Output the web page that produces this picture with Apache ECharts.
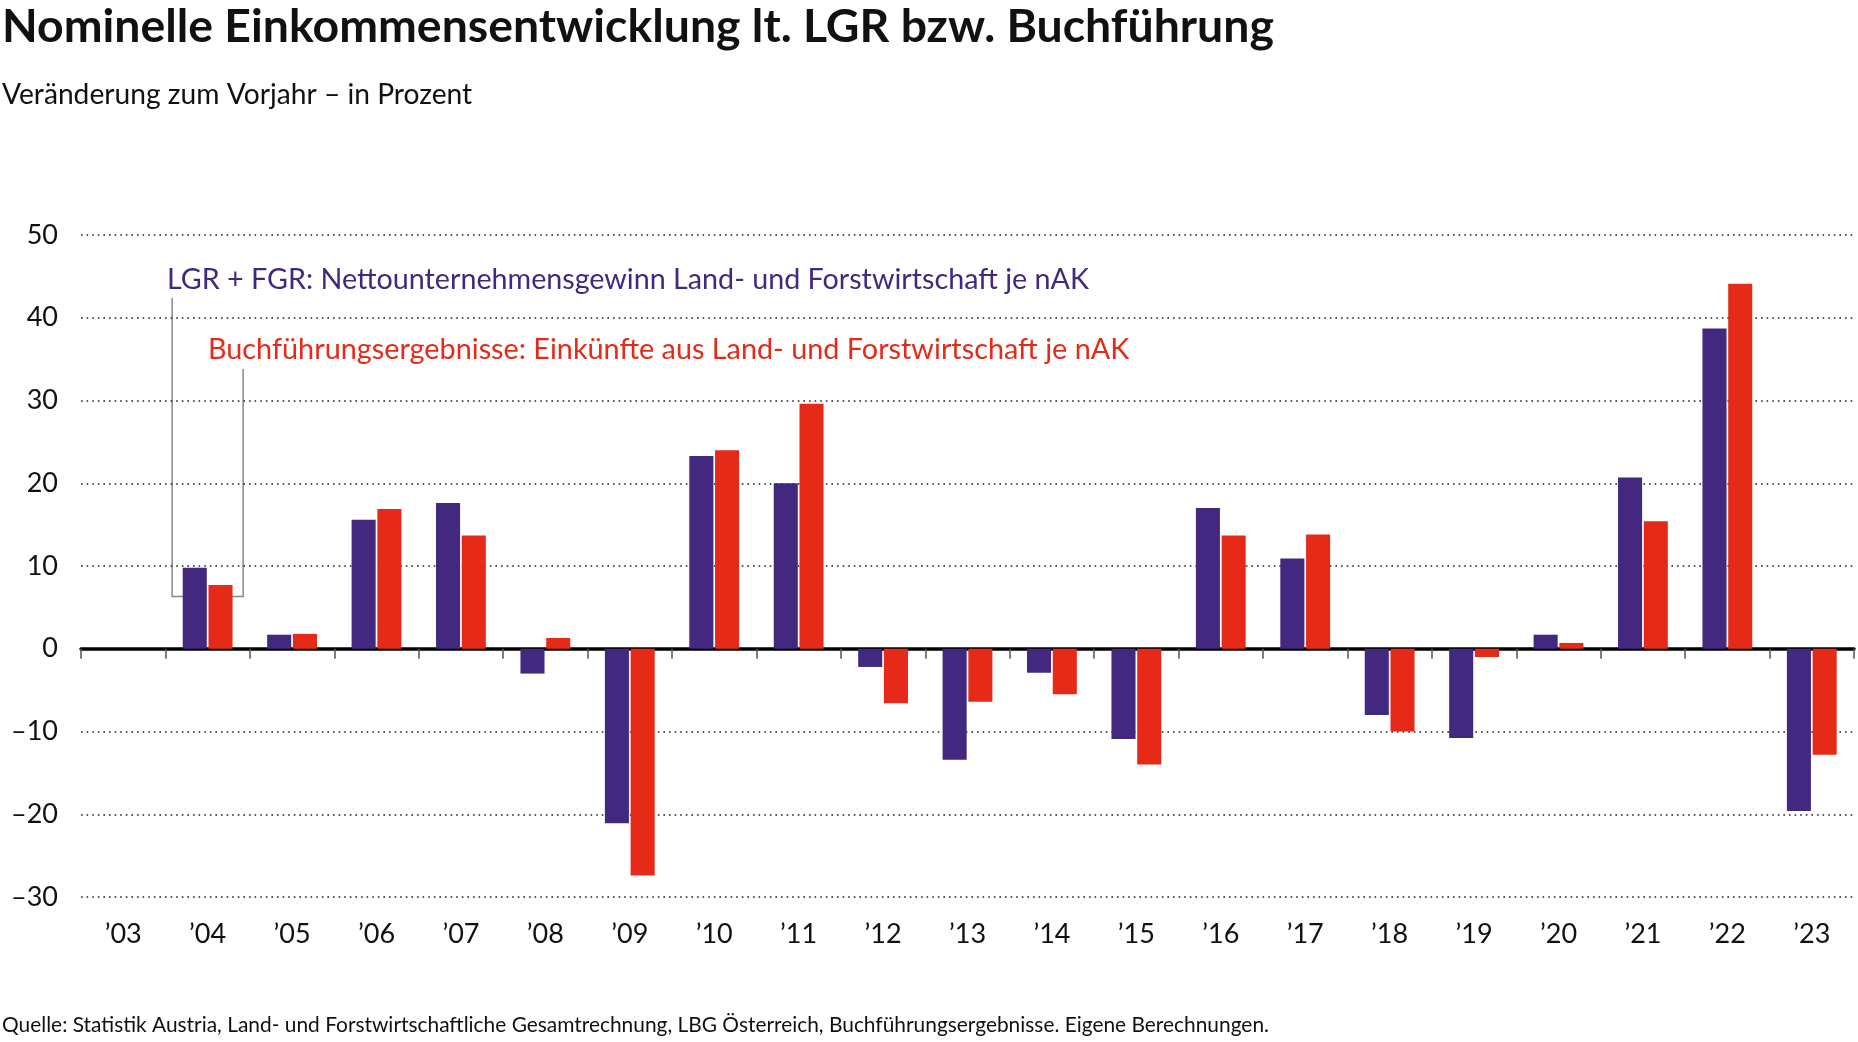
<!DOCTYPE html>
<html>
<head>
<meta charset="utf-8">
<script src="https://cdn.jsdelivr.net/npm/echarts@6/dist/echarts.min.js"></script>
<style>
html,body{margin:0;padding:0;background:#fff;}
#chart{width:1858px;height:1042px;}
</style>
</head>
<body>
<div id="chart"></div>
<script>
// ---- data ----
const years = ['’03','’04','’05','’06','’07','’08','’09','’10','’11','’12','’13','’14','’15','’16','’17','’18','’19','’20','’21','’22','’23'];
const lgrValues = [null, 9.8, 1.7, 15.6, 17.6, -3.0, -21.1, 23.3, 20.0, -2.2, -13.4, -2.9, -10.9, 17.0, 10.9, -8.0, -10.8, 1.7, 20.7, 38.7, -19.6];
const buchValues = [null, 7.7, 1.8, 16.9, 13.7, 1.3, -27.4, 24.0, 29.6, -6.6, -6.4, -5.5, -14.0, 13.7, 13.8, -10.0, -1.0, 0.7, 15.4, 44.1, -12.8];
const yTicks = [-30, -20, -10, 0, 10, 20, 30, 40, 50];

const titleText = 'Nominelle Einkommensentwicklung lt. LGR bzw. Buchführung';
const subtitleText = 'Veränderung zum Vorjahr – in Prozent';
const lgrName = 'LGR + FGR: Nettounternehmensgewinn Land- und Forstwirtschaft je nAK';
const buchName = 'Buchführungsergebnisse: Einkünfte aus Land- und Forstwirtschaft je nAK';
const sourceText = 'Quelle: Statistik Austria, Land- und Forstwirtschaftliche Gesamtrechnung, LBG Österreich, Buchführungsergebnisse. Eigene Berechnungen.';
const annotCategory = '’04';
const annotFootValue = 6.3;

const PURPLE = '#42297f';
const RED = '#e52b18';
const FONT = 'Lato, "Noto Sans", sans-serif';

const chart = echarts.init(document.getElementById('chart'), null, {renderer: 'canvas'});

function fmt(v) { return v < 0 ? '–' + Math.abs(v) : String(v); }

const option = {
  animation: false,
  backgroundColor: '#fff',
  grid: { left: 81, right: 4, top: 235, bottom: 145, containLabel: false },
  xAxis: [
    {
      type: 'category', data: years, position: 'bottom',
      axisLine: { show: false, onZero: false }, axisTick: { show: false },
      axisLabel: { fontFamily: FONT, fontSize: 27, color: '#111', margin: 24 },
      splitLine: { show: false }
    },
    {
      type: 'category', data: years, position: 'top',
      axisLine: { show: true, onZero: true, lineStyle: { color: '#000', width: 3.5 } },
      axisTick: { show: true, inside: true, length: 10, lineStyle: { color: '#555', width: 1.5 } },
      axisLabel: { show: false }, splitLine: { show: false }
    }
  ],
  yAxis: {
    type: 'value', min: yTicks[0], max: yTicks[yTicks.length - 1], interval: 10,
    axisLine: { show: false }, axisTick: { show: false },
    axisLabel: { fontFamily: FONT, fontSize: 27, color: '#111', margin: 23, formatter: fmt },
    splitLine: { show: true, lineStyle: { color: '#222', width: 1.6, type: [1.6, 4] } }
  },
  series: [
    {
      name: lgrName, type: 'bar', xAxisIndex: 0, yAxisIndex: 0, data: lgrValues,
      itemStyle: { color: PURPLE }, barGap: '7%', barCategoryGap: '41%'
    },
    {
      name: buchName, type: 'bar', xAxisIndex: 0, yAxisIndex: 0, data: buchValues,
      itemStyle: { color: RED }, barGap: '7%', barCategoryGap: '41%'
    }
  ],
  graphic: [
    { type: 'text', left: 2, top: 4, style: { text: titleText, font: 'bold 46.4px ' + FONT, fill: '#111' } },
    { type: 'text', left: 2, top: 81, style: { text: subtitleText, font: '28.2px ' + FONT, fill: '#111' } },
    { type: 'text', left: 2, top: 1015, style: { text: sourceText, font: '20.9px ' + FONT, fill: '#111' } },
    { type: 'text', left: 167, top: 265, style: { text: lgrName, font: '28.7px ' + FONT, fill: PURPLE } },
    { type: 'text', left: 208, top: 335, style: { text: buchName, font: '28.8px ' + FONT, fill: RED } }
  ]
};
chart.setOption(option);

// leader lines anchored to the '04 bar pair
const foot = chart.convertToPixel({ xAxisIndex: 0, yAxisIndex: 0 }, [annotCategory, annotFootValue]);
const cx = foot[0], fy = foot[1];
chart.setOption({
  graphic: option.graphic.concat([
    { type: 'polyline', shape: { points: [[cx - 35.5, 298], [cx - 35.5, fy], [cx - 23.5, fy]] },
      style: { stroke: '#888', lineWidth: 1.5, fill: null } },
    { type: 'polyline', shape: { points: [[cx + 35.5, 369], [cx + 35.5, fy], [cx + 24.5, fy]] },
      style: { stroke: '#888', lineWidth: 1.5, fill: null } }
  ])
});
</script>
</body>
</html>
